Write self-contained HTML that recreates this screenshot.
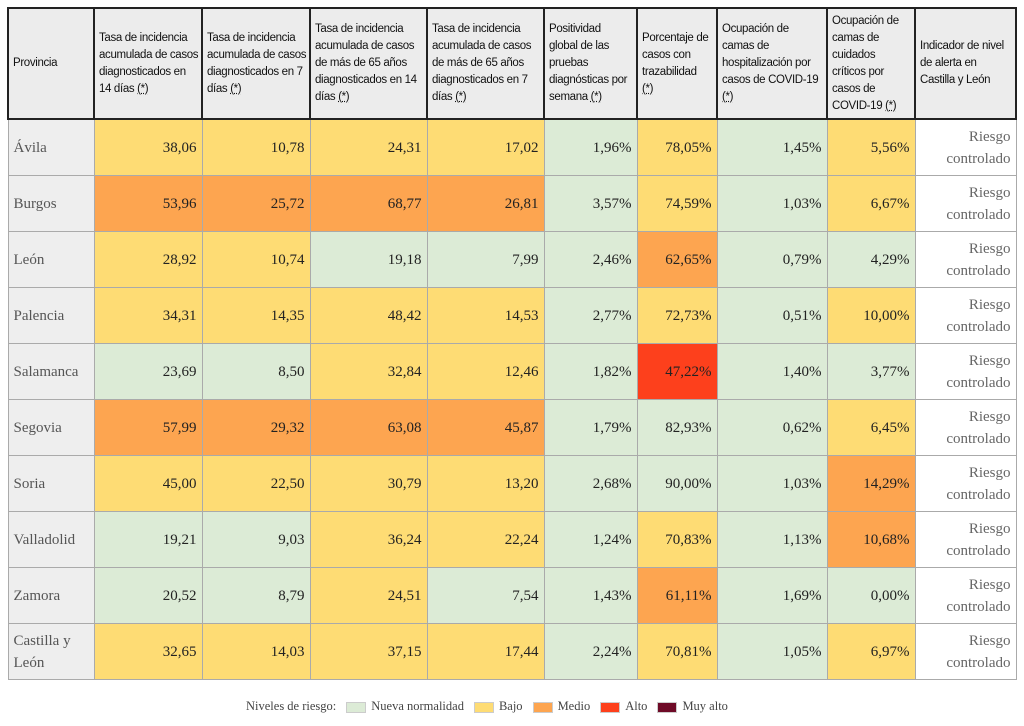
<!DOCTYPE html>
<html><head><meta charset="utf-8"><style>
body{margin:0;background:#fff;width:1024px;height:726px;overflow:hidden}
table{position:absolute;left:7px;top:7px;width:1008px;border-collapse:collapse;table-layout:fixed}
th{background:#ececec;border:2px solid #222;font:11.5px/17px "Liberation Sans",sans-serif;letter-spacing:-0.35px;text-align:left;vertical-align:middle;padding:0 4px;color:#111;height:109px;white-space:nowrap;overflow:hidden}
th u{text-decoration:underline dotted}
td{border:1px solid #aaa;height:55px;padding:0 5px;font:15px/22px "Liberation Serif",serif;text-align:right;color:#222;vertical-align:middle}
td.p{text-align:left;background:#eee;color:#555}
td.w{background:#fff;color:#666}
.G{background:#dcebd6}.Y{background:#fedc74}.O{background:#fda550}.R{background:#fd401c}
.leg{position:absolute;top:699px;left:246px;font:12.5px "Liberation Serif",serif;color:#444;white-space:nowrap}
.leg i{display:inline-block;width:18px;height:9px;margin:0 5px 0 10px;vertical-align:middle;border:1px solid #ccc}
</style></head><body>
<table>
<colgroup><col style="width:86px"><col style="width:108px"><col style="width:108px"><col style="width:117px"><col style="width:117px"><col style="width:93px"><col style="width:80px"><col style="width:110px"><col style="width:88px"><col style="width:101px"></colgroup>
<tr><th>Provincia</th><th>Tasa de incidencia<br>acumulada de casos<br>diagnosticados en<br>14 días <u>(*)</u></th><th>Tasa de incidencia<br>acumulada de casos<br>diagnosticados en 7<br>días <u>(*)</u></th><th>Tasa de incidencia<br>acumulada de casos<br>de más de 65 años<br>diagnosticados en 14<br>días <u>(*)</u></th><th>Tasa de incidencia<br>acumulada de casos<br>de más de 65 años<br>diagnosticados en 7<br>días <u>(*)</u></th><th>Positividad<br>global de las<br>pruebas<br>diagnósticas por<br>semana <u>(*)</u></th><th>Porcentaje de<br>casos con<br>trazabilidad<br><u>(*)</u></th><th>Ocupación de<br>camas de<br>hospitalización por<br>casos de COVID-19<br><u>(*)</u></th><th>Ocupación de<br>camas de<br>cuidados<br>críticos por<br>casos de<br>COVID-19 <u>(*)</u></th><th>Indicador de nivel<br>de alerta en<br>Castilla y León</th></tr>
<tr><td class="p">Ávila</td><td class="Y">38,06</td><td class="Y">10,78</td><td class="Y">24,31</td><td class="Y">17,02</td><td class="G">1,96%</td><td class="Y">78,05%</td><td class="G">1,45%</td><td class="Y">5,56%</td><td class="w">Riesgo<br>controlado</td></tr>
<tr><td class="p">Burgos</td><td class="O">53,96</td><td class="O">25,72</td><td class="O">68,77</td><td class="O">26,81</td><td class="G">3,57%</td><td class="Y">74,59%</td><td class="G">1,03%</td><td class="Y">6,67%</td><td class="w">Riesgo<br>controlado</td></tr>
<tr><td class="p">León</td><td class="Y">28,92</td><td class="Y">10,74</td><td class="G">19,18</td><td class="G">7,99</td><td class="G">2,46%</td><td class="O">62,65%</td><td class="G">0,79%</td><td class="G">4,29%</td><td class="w">Riesgo<br>controlado</td></tr>
<tr><td class="p">Palencia</td><td class="Y">34,31</td><td class="Y">14,35</td><td class="Y">48,42</td><td class="Y">14,53</td><td class="G">2,77%</td><td class="Y">72,73%</td><td class="G">0,51%</td><td class="Y">10,00%</td><td class="w">Riesgo<br>controlado</td></tr>
<tr><td class="p">Salamanca</td><td class="G">23,69</td><td class="G">8,50</td><td class="Y">32,84</td><td class="Y">12,46</td><td class="G">1,82%</td><td class="R">47,22%</td><td class="G">1,40%</td><td class="G">3,77%</td><td class="w">Riesgo<br>controlado</td></tr>
<tr><td class="p">Segovia</td><td class="O">57,99</td><td class="O">29,32</td><td class="O">63,08</td><td class="O">45,87</td><td class="G">1,79%</td><td class="G">82,93%</td><td class="G">0,62%</td><td class="Y">6,45%</td><td class="w">Riesgo<br>controlado</td></tr>
<tr><td class="p">Soria</td><td class="Y">45,00</td><td class="Y">22,50</td><td class="Y">30,79</td><td class="Y">13,20</td><td class="G">2,68%</td><td class="G">90,00%</td><td class="G">1,03%</td><td class="O">14,29%</td><td class="w">Riesgo<br>controlado</td></tr>
<tr><td class="p">Valladolid</td><td class="G">19,21</td><td class="G">9,03</td><td class="Y">36,24</td><td class="Y">22,24</td><td class="G">1,24%</td><td class="Y">70,83%</td><td class="G">1,13%</td><td class="O">10,68%</td><td class="w">Riesgo<br>controlado</td></tr>
<tr><td class="p">Zamora</td><td class="G">20,52</td><td class="G">8,79</td><td class="Y">24,51</td><td class="G">7,54</td><td class="G">1,43%</td><td class="O">61,11%</td><td class="G">1,69%</td><td class="G">0,00%</td><td class="w">Riesgo<br>controlado</td></tr>
<tr><td class="p">Castilla y León</td><td class="Y">32,65</td><td class="Y">14,03</td><td class="Y">37,15</td><td class="Y">17,44</td><td class="G">2,24%</td><td class="Y">70,81%</td><td class="G">1,05%</td><td class="Y">6,97%</td><td class="w">Riesgo<br>controlado</td></tr>
</table>
<div class="leg">Niveles de riesgo:<i style="background:#dcebd6"></i>Nueva normalidad<i style="background:#fedc74"></i>Bajo<i style="background:#fda550"></i>Medio<i style="background:#fd401c"></i>Alto<i style="background:#6e0a27"></i>Muy alto</div>
</body></html>
